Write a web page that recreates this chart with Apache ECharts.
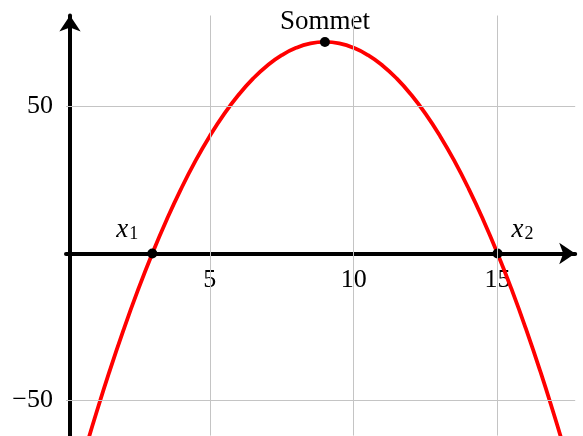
<!DOCTYPE html>
<html>
<head>
<meta charset="utf-8">
<script src="https://cdn.jsdelivr.net/npm/echarts@6/dist/echarts.min.js"></script>
<style>
  html, body { margin: 0; padding: 0; background: #fff; }
  #chart { width: 583px; height: 436px; }
</style>
</head>
<body>
<div id="chart"></div>
<script>
// courbe
var curveX = [0.8, 1, 1.5, 2, 2.5, 3, 3.5, 4, 4.5, 5, 5.5, 6, 6.5, 7, 7.5, 8, 8.5, 9,
              9.5, 10, 10.5, 11, 11.5, 12, 12.5, 13, 13.5, 14, 14.5, 15, 15.5, 16, 16.5, 17, 17.2];
var curveY = [-62.5, -56, -40.5, -26, -12.5, 0, 11.5, 22, 31.5, 40, 47.5, 54, 59.5, 64, 67.5, 70, 71.5, 72,
              71.5, 70, 67.5, 64, 59.5, 54, 47.5, 40, 31.5, 22, 11.5, 0, -12.5, -26, -40.5, -56, -62.5];
// points remarquables
var pointX = [3, 15, 9];
var pointY = [0, 0, 72];
var pointNames = ['x1', 'x2', 'Sommet'];
// graduations
var xTicks = [5, 10, 15];
var yTicks = [-50, 50];

var font = '"Liberation Serif", "DejaVu Serif", serif';

var chart = echarts.init(document.getElementById('chart'));

var gridLines = [];
xTicks.forEach(function (v) {
  gridLines.push([{ coord: [v, -62] }, { coord: [v, 81] }]);
});
yTicks.forEach(function (v) {
  gridLines.push([{ coord: [0, v] }, { coord: [17.7, v] }]);
});

var labelFor = {
  x1: { formatter: '{i|x}{s|1}', offset: [-25, -1] },
  x2: { formatter: '{i|x}{s|2}', offset: [25, -1] },
  Sommet: { formatter: 'Sommet', offset: [0, 2] }
};

var points = pointX.map(function (x, i) {
  var l = labelFor[pointNames[i]];
  return {
    value: [x, pointY[i]],
    label: {
      show: true,
      formatter: l.formatter,
      position: 'top',
      offset: l.offset,
      distance: 4,
      color: '#000',
      fontFamily: font,
      fontSize: 27,
      rich: {
        i: { fontFamily: font, fontStyle: 'italic', fontSize: 27, color: '#000' },
        s: { fontFamily: font, fontSize: 18, color: '#000', padding: [10, 0, 0, 1] }
      }
    }
  };
});

// position du zéro de l'axe des y en pixels, pour placer l'axe des x dessus
var gridTop = 15.5, gridBottom = 0.4, yMin = -62, yMax = 81;
var plotH = 436 - gridTop - gridBottom;
var xAxisOffset = -plotH * (0 - yMin) / (yMax - yMin);

var option = {
  animation: false,
  grid: { left: 66, right: 7.8, top: gridTop, bottom: gridBottom, outerBoundsMode: 'none' },
  xAxis: {
    type: 'value',
    min: 0,
    max: 17.7,
    interval: 5,
    offset: xAxisOffset,
    axisLine: {
      onZero: false,
      lineStyle: { color: '#000', width: 4 },
      symbol: ['none', 'arrow'],
      symbolSize: [16, 16]
    },
    axisTick: { show: false },
    splitLine: { show: false },
    axisLabel: {
      customValues: xTicks,
      margin: 14,
      color: '#000',
      fontFamily: font,
      fontSize: 26
    }
  },
  yAxis: {
    type: 'value',
    min: yMin,
    max: yMax,
    offset: -4,
    axisLine: {
      onZero: false,
      lineStyle: { color: '#000', width: 4 },
      symbol: ['none', 'arrow'],
      symbolSize: [16, 16]
    },
    axisTick: { show: false },
    splitLine: { show: false },
    axisLabel: {
      customValues: yTicks,
      margin: 17,
      color: '#000',
      fontFamily: font,
      fontSize: 26,
      formatter: function (v) { return v < 0 ? '\u2212' + Math.abs(v) : '' + v; }
    }
  },
  series: [
    {
      type: 'line',
      data: [],
      silent: true,
      markLine: {
        silent: true,
        symbol: ['none', 'none'],
        label: { show: false },
        lineStyle: { color: '#c4c4c4', width: 1, type: 'solid' },
        data: gridLines
      },
      z: 1
    },
    {
      type: 'line',
      smooth: true,
      showSymbol: false,
      data: curveX.map(function (x, i) { return [x, curveY[i]]; }),
      lineStyle: { color: '#ff0000', width: 3.8 },
      z: 3
    },
    {
      type: 'scatter',
      symbolSize: 10,
      itemStyle: { color: '#000', opacity: 1 },
      data: points,
      z: 4
    }
  ]
};

chart.setOption(option);
</script>
</body>
</html>
